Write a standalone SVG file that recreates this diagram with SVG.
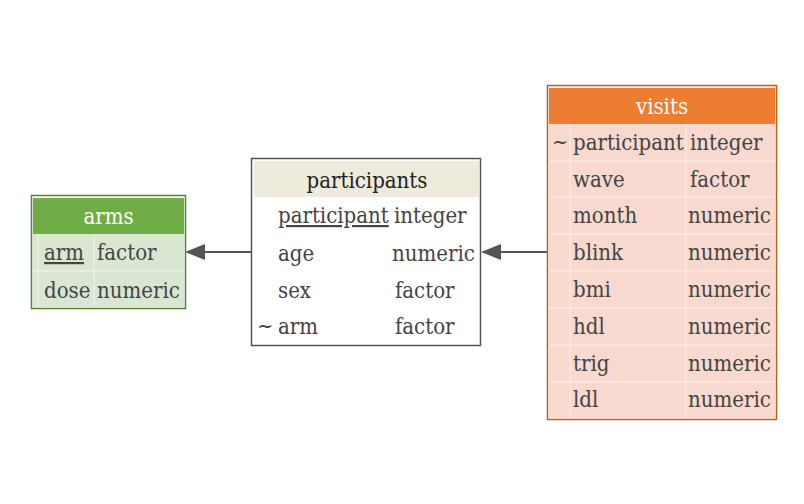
<svg xmlns="http://www.w3.org/2000/svg" width="804" height="504" viewBox="0 0 804 504">
<style>
text{font-family:"DejaVu Serif Condensed","DejaVu Serif",serif;font-stretch:condensed;font-size:22px;fill:#444}
.hd{fill:#fff;text-anchor:middle}
.hdk{fill:#222;text-anchor:middle}
.sep{stroke:#fff;stroke-width:1;opacity:0.6}
.edge{stroke:#555;stroke-width:2;fill:none}
</style>
<rect width="804" height="504" fill="#fff"/>
<g id="connectors">
<line class="edge" x1="547" y1="252" x2="501" y2="252"/>
<path d="M501,244 L481,252 L501,260 Z" fill="#555"/>
<line class="edge" x1="251" y1="252" x2="205" y2="252"/>
<path d="M205,244 L185,252 L205,260 Z" fill="#555"/>
</g>
<g id="arms">
<rect x="31.5" y="195.5" width="154" height="113" fill="#fff" stroke="#538135" stroke-width="1.5"/>
<rect x="33" y="198" width="151" height="36" fill="#70AD47"/>
<rect x="33" y="234" width="151" height="73" fill="#D9E6D2"/>
<line class="sep" x1="33" y1="271" x2="184" y2="271"/>
<line class="sep" x1="94" y1="234" x2="94" y2="307"/>
<line class="sep" x1="38" y1="234" x2="38" y2="307"/>
<text class="hd" x="108.5" y="224">arms</text>
<text x="44" y="260" text-decoration="underline">arm</text>
<text x="97" y="260">factor</text>
<text x="44" y="298">dose</text>
<text x="97" y="298">numeric</text>
</g>
<g id="participants">
<rect x="251.5" y="158.5" width="229" height="187" fill="#fff" stroke="#555" stroke-width="1.5"/>
<rect x="254" y="161" width="225" height="36" fill="#EEEBDD"/>
<text class="hdk" x="367" y="188">participants</text>
<text x="278" y="223" text-decoration="underline">participant</text>
<text x="394" y="223">integer</text>
<text x="278" y="261">age</text>
<text x="392" y="261">numeric</text>
<text x="278" y="298">sex</text>
<text x="395" y="298">factor</text>
<text x="257" y="333">~</text>
<text x="278" y="334">arm</text>
<text x="395" y="334">factor</text>
</g>
<g id="visits">
<rect x="547.5" y="85.5" width="229" height="334" fill="#fff" stroke="#C55A11" stroke-width="1.5"/>
<rect x="549" y="88" width="226" height="36" fill="#ED7D31"/>
<rect x="549" y="124" width="226" height="294" fill="#F8D9CF"/>
<g class="sep">
<line x1="549" y1="161" x2="775" y2="161"/>
<line x1="549" y1="197" x2="775" y2="197"/>
<line x1="549" y1="234" x2="775" y2="234"/>
<line x1="549" y1="271" x2="775" y2="271"/>
<line x1="549" y1="308" x2="775" y2="308"/>
<line x1="549" y1="345" x2="775" y2="345"/>
<line x1="549" y1="382" x2="775" y2="382"/>
<line x1="570" y1="124" x2="570" y2="418"/>
<line x1="686" y1="124" x2="686" y2="418"/>
</g>
<text class="hd" x="662" y="114">visits</text>
<text x="552" y="149">~</text>
<text x="573" y="150">participant</text>
<text x="690" y="150">integer</text>
<text x="573" y="187">wave</text>
<text x="690" y="187">factor</text>
<text x="573" y="223">month</text>
<text x="688" y="223">numeric</text>
<text x="573" y="260">blink</text>
<text x="688" y="260">numeric</text>
<text x="573" y="297">bmi</text>
<text x="688" y="297">numeric</text>
<text x="573" y="334">hdl</text>
<text x="688" y="334">numeric</text>
<text x="573" y="371">trig</text>
<text x="688" y="371">numeric</text>
<text x="573" y="407">ldl</text>
<text x="688" y="407">numeric</text>
</g>
</svg>
